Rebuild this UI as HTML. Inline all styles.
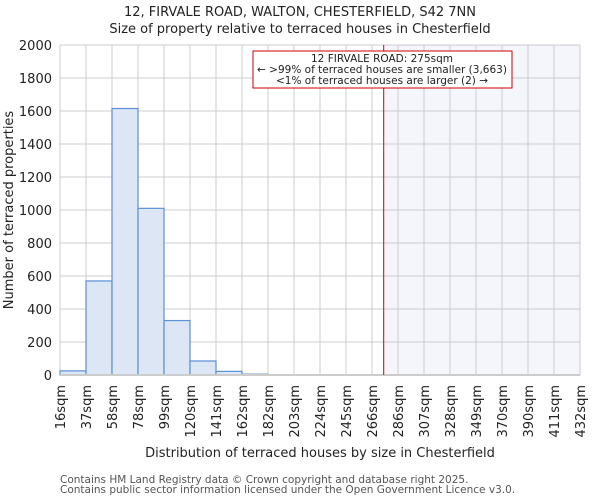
<!DOCTYPE html>
<html><head><meta charset="utf-8"><style>
body{margin:0;background:#fff;font-family:"DejaVu Sans","Liberation Sans",sans-serif}
svg text{font-family:"DejaVu Sans","Liberation Sans",sans-serif;fill:#222}
</style></head><body>
<svg id="c" width="600" height="500"></svg>
<script>
const binEdges=[16,37,58,78,99,120,141,162,182,203,224,245,266,286,307,328,349,370,390,411,432];
const counts=[25,570,1615,1010,330,85,22,5,2,1,0,0,0,0,0,0,0,0,0,0];
const yTicks=[0,200,400,600,800,1000,1200,1400,1600,1800,2000];
const subjectSize=275;
const NS="http://www.w3.org/2000/svg";
const svg=document.getElementById('c');
const L=60,R=580,T=45,B=375,yMax=2000;
const bw=(R-L)/counts.length;
const xi=i=>L+i*bw;
const xv=v=>{for(let i=0;i<binEdges.length-1;i++){if(v<=binEdges[i+1])return xi(i)+bw*(v-binEdges[i])/(binEdges[i+1]-binEdges[i]);}return R;};
const y=v=>B-(B-T)*v/yMax;
function mk(t,a,p){const e=document.createElementNS(NS,t);for(const k in a)e.setAttribute(k,a[k]);(p||svg).appendChild(e);return e;}
const sx=xv(subjectSize);
let e=mk('rect',{x:sx,y:T,width:R-sx,height:B-T,fill:'#f4f6fc'});


yTicks.forEach(t=>{
 let g=mk('line',{x1:L,x2:R,y1:y(t),y2:y(t),stroke:'#ccc','stroke-width':1});
 
 
 let tx=mk('text',{x:L-8,y:y(t)+5,'text-anchor':'end','font-size':13});
 tx.textContent=t;
 
 
});
binEdges.forEach((b,i)=>{
 let g=mk('line',{x1:xi(i),x2:xi(i),y1:T,y2:B,stroke:'#ccc','stroke-width':1});
 
 
 let tx=mk('text',{transform:`translate(${xi(i)+5},${B+10}) rotate(-90)`,'text-anchor':'end','font-size':13});
 tx.textContent=b+'sqm';
 
 
});
counts.forEach((c,i)=>{
 if(c<=0)return;
 let r=mk('rect',{x:xi(i),y:y(c),width:bw,height:B-y(c),fill:'#dce6f4',stroke:'#5b8fd6','stroke-width':1.2});
 
 
});
e=mk('line',{x1:L,x2:R,y1:B,y2:B,stroke:'#ccc','stroke-width':2});


e=mk('line',{x1:sx,x2:sx,y1:T,y2:B,stroke:'#cc0000','stroke-width':1});


</script>
<svg width="600" height="500" style="position:absolute;left:0;top:0">
<text x="300" y="16" text-anchor="middle" font-size="13">12, FIRVALE ROAD, WALTON, CHESTERFIELD, S42 7NN</text>
<text x="300" y="33" text-anchor="middle" font-size="13">Size of property relative to terraced houses in Chesterfield</text>
<text transform="translate(13,210) rotate(-90)" text-anchor="middle" font-size="13">Number of terraced properties</text>
<text x="320" y="457" text-anchor="middle" font-size="13">Distribution of terraced houses by size in Chesterfield</text>
<rect x="253" y="51" width="259" height="37" fill="#fff" stroke="#cc0000" stroke-width="1"/>
<text x="382" y="62" text-anchor="middle" font-size="10.5">12 FIRVALE ROAD: 275sqm</text>
<text x="382" y="73" text-anchor="middle" font-size="10.5">← &gt;99% of terraced houses are smaller (3,663)</text>
<text x="382" y="84" text-anchor="middle" font-size="10.5">&lt;1% of terraced houses are larger (2) →</text>
<text x="60" y="483" font-size="10.5" style="fill:#555">Contains HM Land Registry data © Crown copyright and database right 2025.</text>
<text x="60" y="493" font-size="10.5" style="fill:#555">Contains public sector information licensed under the Open Government Licence v3.0.</text>
</svg>
</body></html>
